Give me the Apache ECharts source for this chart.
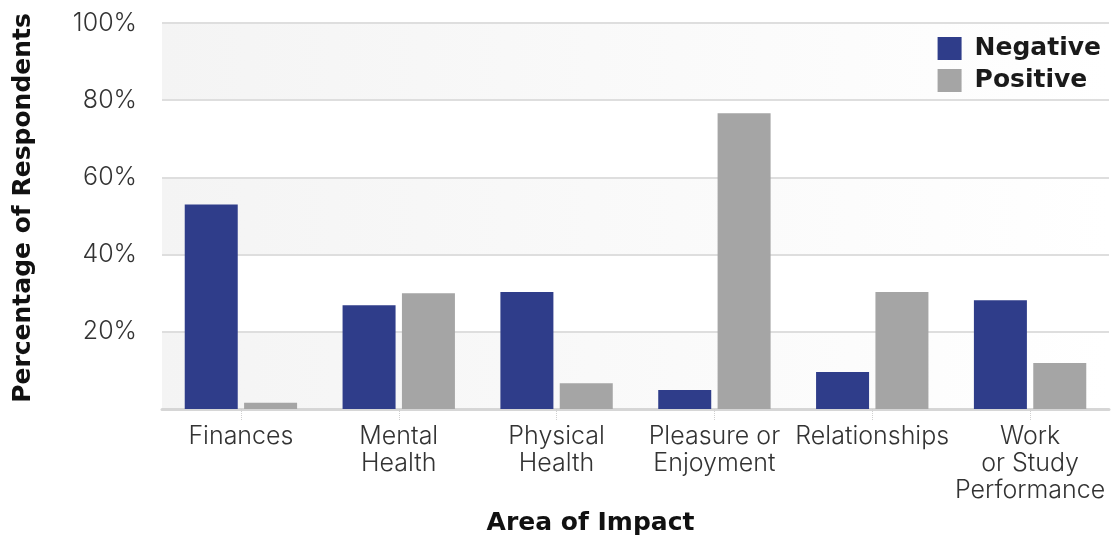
<!DOCTYPE html>
<html>
<head>
<meta charset="utf-8">
<script src="https://cdn.jsdelivr.net/npm/echarts@6/dist/echarts.min.js"></script>
<style>
html,body{margin:0;padding:0;background:#fff;}
#chart{width:1116px;height:537px;}
</style>
</head>
<body>
<div id="chart"></div>
<script>
var categories = ['Finances', 'Mental\nHealth', 'Physical\nHealth', 'Pleasure or\nEnjoyment', 'Relationships', 'Work\nor Study\nPerformance'];
var negativeValues = [53.0, 26.9, 30.3, 4.9, 9.6, 28.2];
var positiveValues = [1.6, 30.0, 6.7, 76.6, 30.3, 11.9];
var yTicks = [0, 20, 40, 60, 80, 100];

var chart = echarts.init(document.getElementById('chart'), null, {renderer: 'canvas'});
var bandGrad = new echarts.graphic.LinearGradient(0, 0, 1, 0, [
  {offset: 0, color: '#f4f4f4'},
  {offset: 1, color: '#ffffff'}
]);
var labelFont = 'Inter, "Open Sans", sans-serif';
var titleFont = '"DejaVu Sans", sans-serif';
var option = {
  animation: false,
  backgroundColor: '#ffffff',
  grid: {left: 162, right: 7, top: 23, bottom: 128, containLabel: false, outerBoundsMode: 'none'},
  legend: {
    orient: 'vertical',
    right: 10,
    top: 31,
    itemWidth: 24,
    itemHeight: 23,
    itemGap: 7,
    icon: 'rect',
    textStyle: {fontFamily: titleFont, fontWeight: 'bold', fontSize: 25, color: '#1a1a1a', padding: [0, 0, 0, 8]},
    data: ['Negative', 'Positive']
  },
  xAxis: {
    type: 'category',
    data: categories,
    name: 'Area of Impact',
    nameLocation: 'middle',
    nameGap: 102,
    nameTextStyle: {fontFamily: titleFont, fontWeight: 'bold', fontSize: 25, color: '#111', padding: [0, 90, 0, 0]},
    axisLine: {lineStyle: {color: '#d6d6d6', width: 3}},
    axisTick: {show: true, alignWithLabel: true, length: 11, lineStyle: {color: '#d0d0d0', type: 'dotted', width: 1}},
    axisLabel: {fontFamily: labelFont, fontWeight: 300, fontSize: 25, color: '#333', lineHeight: 27, margin: 14, interval: 0}
  },
  yAxis: {
    type: 'value',
    min: yTicks[0],
    max: yTicks[yTicks.length - 1],
    interval: 20,
    name: 'Percentage of Respondents',
    nameLocation: 'middle',
    nameGap: 126,
    nameRotate: 90,
    nameTextStyle: {fontFamily: titleFont, fontWeight: 'bold', fontSize: 25, color: '#111', padding: [0, 0, 0, 16]},
    axisLine: {show: false},
    axisTick: {show: false},
    axisLabel: {fontFamily: labelFont, fontWeight: 300, fontSize: 25, color: '#333', margin: 25,
      formatter: function (v) { return v === 0 ? '' : v + '%'; }},
    splitLine: {lineStyle: {color: '#dedede', width: 2}},
    splitArea: {show: true, areaStyle: {color: [bandGrad, '#ffffff']}}
  },
  series: [
    {name: 'Negative', type: 'bar', data: negativeValues, barWidth: 53, barGap: '12%', itemStyle: {color: '#2f3d8a'}},
    {name: 'Positive', type: 'bar', data: positiveValues, barWidth: 53, itemStyle: {color: '#a5a5a5'}}
  ]
};
chart.setOption(option);
</script>
</body>
</html>
